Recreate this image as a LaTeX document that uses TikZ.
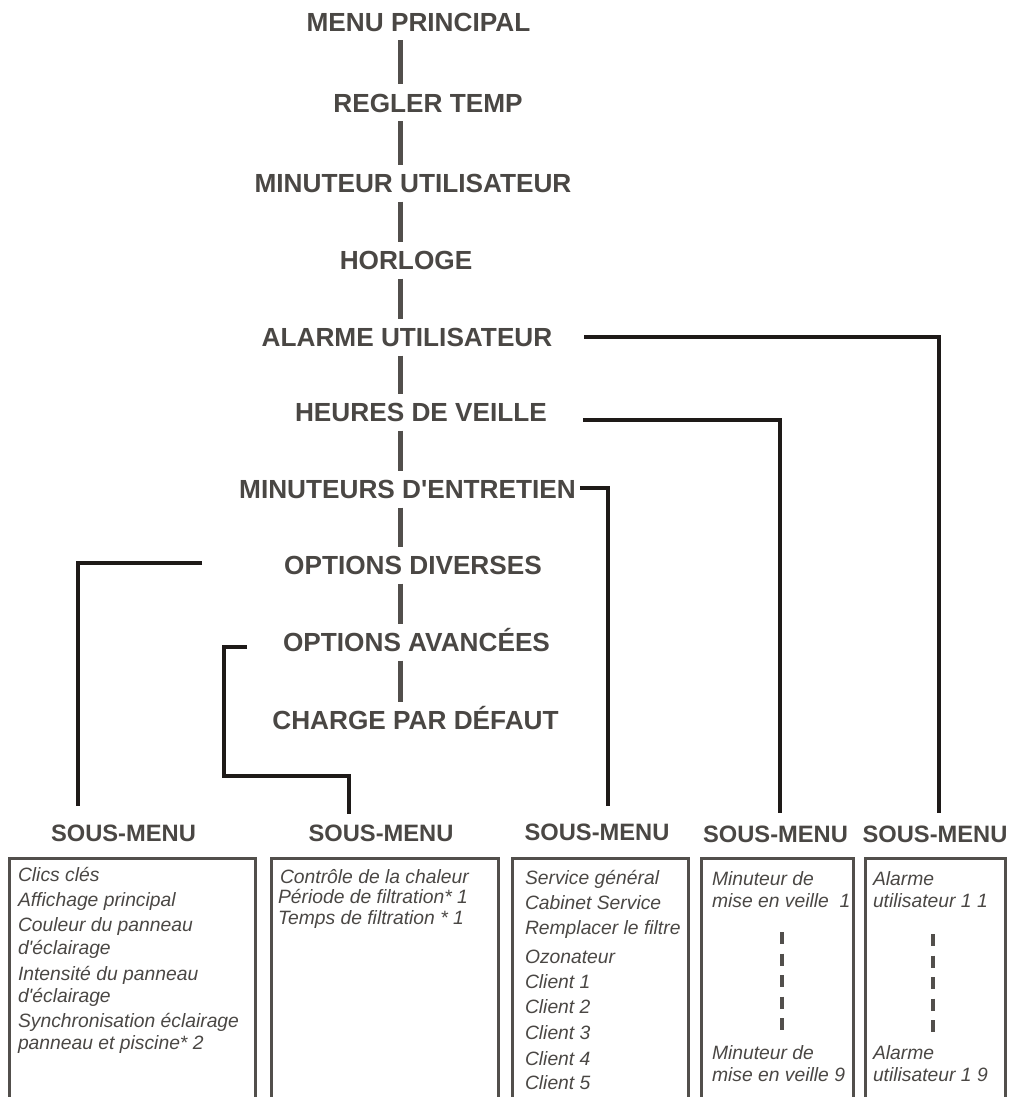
\documentclass[tikz,border=0pt]{standalone}
\usepackage{fontspec}
\newfontfamily\lib{Liberation Sans}
\definecolor{txtgray}{RGB}{74,71,68}
\definecolor{spinegray}{RGB}{82,79,76}
\definecolor{lineblack}{RGB}{30,26,24}
\definecolor{boxgray}{RGB}{82,79,76}
\begin{document}
\begin{tikzpicture}[x=1pt,y=-1pt,
  mainlbl/.style={font=\lib\bfseries\fontsize{26.2}{30}\selectfont, text=txtgray, inner xsep=0pt, inner ysep=0pt, outer sep=0pt, text height=18.8pt, text depth=0pt},
  headlbl/.style={font=\lib\bfseries\fontsize{23.7}{28}\selectfont, text=txtgray, inner sep=0pt, outer sep=0pt, text height=17pt, text depth=0pt},
  itemlbl/.style={font=\lib\itshape\fontsize{19.3}{22}\selectfont, text=txtgray, inner sep=0pt, outer sep=0pt, anchor=base west},
  spineline/.style={draw=spinegray, line width=4.6pt, shorten <=18.5pt, shorten >=18.5pt},
  conn/.style={draw=lineblack, line width=4.5pt},
  subbox/.style={draw=boxgray, line width=3pt, rectangle, anchor=north west, inner sep=0pt, outer sep=0pt, minimum height=260pt},
  dotline/.style={draw=spinegray, line width=3.2pt, dash pattern=on 12pt off 9.5pt}
]
\useasboundingbox (0,0) rectangle (1010,1097);
\clip (0,0) rectangle (1010,1097);
\coordinate (spine) at (400.5,0);

% main menu column
\node[mainlbl] (mp) at (418.5,22) {MENU PRINCIPAL};
\node[mainlbl] (rt) at (428,103) {REGLER TEMP};
\node[mainlbl] (mu) at (413,183) {MINUTEUR UTILISATEUR};
\node[mainlbl] (ho) at (406,260) {HORLOGE};
\node[mainlbl] (al) at (407,337) {ALARME UTILISATEUR};
\node[mainlbl] (he) at (421,412) {HEURES DE VEILLE};
\node[mainlbl] (mi) at (407.5,489) {MINUTEURS D'ENTRETIEN};
\node[mainlbl] (od) at (413,565) {OPTIONS DIVERSES};
\node[mainlbl] (oa) at (416.5,642) {OPTIONS AVANCÉES};
\node[mainlbl] (cp) at (415.5,720) {CHARGE PAR DÉFAUT};

\foreach \a/\b in {mp/rt, rt/mu, mu/ho, ho/al, al/he, he/mi, mi/od, od/oa, oa/cp}
  \draw[spineline] (spine |- \a.center) -- (spine |- \b.center);

% sub-menu headings
\node[headlbl] (sm1) at (123.5,833) {SOUS-MENU};
\node[headlbl] (sm2) at (381,833) {SOUS-MENU};
\node[headlbl] (sm3) at (597,832) {SOUS-MENU};
\node[headlbl] (sm4) at (775.5,834) {SOUS-MENU};
\node[headlbl] (sm5) at (935,834) {SOUS-MENU};

% connectors
\draw[conn, shorten >=12.5pt] ([xshift=32pt]al.east) -| ([xshift=4pt]sm5.north);
\draw[conn, shorten >=12.5pt] ([xshift=36pt,yshift=-8pt]he.east) -| ([xshift=4.5pt]sm4.north);
\draw[conn, shorten >=17.5pt] ([xshift=4pt,yshift=1pt]mi.east) -| ([xshift=11pt]sm3.north);
\draw[conn, shorten >=18.5pt] ([xshift=-82pt,yshift=2pt]od.west) -| ([xshift=-45.5pt]sm1.north);
\coordinate (k1) at (224,776);
\draw[conn, shorten >=10.5pt] ([xshift=-36pt,yshift=-5pt]oa.west) -| (k1) -| ([xshift=-32pt]sm2.north);

% boxes
\node[subbox, minimum width=246pt] (b1) at (9.7,858.3) {};
\node[subbox, minimum width=226.6pt] (b2) at (271.7,858.3) {};
\node[subbox, minimum width=175.8pt] (b3) at (512.5,858.3) {};
\node[subbox, minimum width=151.6pt] (b4) at (701.7,858.3) {};
\node[subbox, minimum width=140pt] (b5) at (865,858.3) {};

% box 1
\node[itemlbl] (t11) at (18,881.7) {Clics clés};
\node[itemlbl] (t12) at (18,906.7) {Affichage principal};
\node[itemlbl] (t13) at (18,931.7) {Couleur du panneau};
\node[itemlbl] (t14) at (18,954) {d'éclairage};
\node[itemlbl] (t15) at (18,980) {Intensité du panneau};
\node[itemlbl] (t16) at (18,1002) {d'éclairage};
\node[itemlbl] (t17) at (18,1027) {Synchronisation éclairage};
\node[itemlbl] (t18) at (18,1049.5) {panneau et piscine* 2};

% box 2
\node[itemlbl] (t21) at (280,883) {Contrôle de la chaleur};
\node[itemlbl] (t22) at (278,903.5) {Période de filtration* 1};
\node[itemlbl] (t23) at (278,924) {Temps de filtration * 1};

% box 3
\node[itemlbl] (t31) at (525,884) {Service général};
\node[itemlbl] (t32) at (525,909) {Cabinet Service};
\node[itemlbl] (t33) at (525,934) {Remplacer le filtre};
\node[itemlbl] (t34) at (525,963) {Ozonateur};
\node[itemlbl] (t35) at (525,988) {Client 1};
\node[itemlbl] (t36) at (525,1013) {Client 2};
\node[itemlbl] (t37) at (525,1039) {Client 3};
\node[itemlbl] (t38) at (525,1065) {Client 4};
\node[itemlbl] (t39) at (525,1089) {Client 5};

% box 4
\node[itemlbl] (t41) at (712,885) {Minuteur de};
\node[itemlbl] (t42) at (712,907) {mise en veille\hspace{0.55em}1};
\node[itemlbl] (t43) at (712,1059) {Minuteur de};
\node[itemlbl] (t44) at (712,1081) {mise en veille 9};
\coordinate (d4a) at (782,932);
\coordinate (d4b) at (782,1030);
\draw[dotline] (d4a) -- (d4b);

% box 5
\node[itemlbl] (t51) at (873,885) {Alarme};
\node[itemlbl] (t52) at (873,907) {utilisateur 1 1};
\node[itemlbl] (t53) at (873,1059) {Alarme};
\node[itemlbl] (t54) at (873,1081) {utilisateur 1 9};
\coordinate (d5a) at (933,934);
\coordinate (d5b) at (933,1032);
\draw[dotline] (d5a) -- (d5b);
\end{tikzpicture}
\end{document}
